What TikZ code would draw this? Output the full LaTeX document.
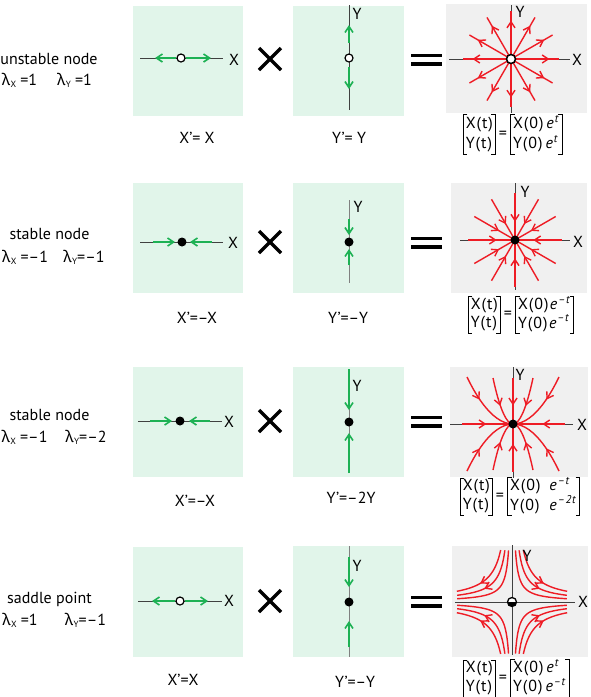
\documentclass[tikz,border=0pt]{standalone}
\usepackage{fontspec}
\setmainfont{PT Sans}
\newfontfamily\grk{Noto Sans}
\newfontfamily\eqfam[LetterSpace=6]{PT Sans}
\usetikzlibrary{arrows.meta,decorations.markings}
\definecolor{boxgreen}{HTML}{E1F5EA}
\definecolor{boxgray}{HTML}{F0F0F0}
\definecolor{lgreen}{HTML}{1DB154}
\definecolor{lred}{HTML}{EE1C25}
\definecolor{axisc}{HTML}{404040}
\newcommand{\lam}[2]{{\grk λ}\kern0.5pt\raisebox{-0.35ex}{\fontsize{9}{9}\selectfont #1}#2}
\newcommand{\mn}{\textendash}
\newcommand{\ee}{\textit{e}}
\newcommand{\sps}[1]{\textsuperscript{\textit{#1}}}
\newcommand{\twol}[2]{\begin{tabular}{@{}l@{}}#1\\#2\end{tabular}}
\newcommand{\brk}[1]{%
  \draw[brkline] ([xshift=4pt]#1.north west) -- (#1.north west) -- (#1.south west) -- ([xshift=4pt]#1.south west);
  \draw[brkline] ([xshift=-4pt]#1.north east) -- (#1.north east) -- (#1.south east) -- ([xshift=-4pt]#1.south east);}
\begin{document}
\begin{tikzpicture}[x=1pt,y=-1pt,
  >={Straight Barb[length=6pt,width=8pt]},
  every node/.style={inner sep=0pt,outer sep=0pt},
  lbl/.style={anchor=base,font=\fontsize{16}{19}\selectfont},
  vec/.style={anchor=center,inner xsep=2.5pt,inner ysep=0pt,font=\eqfam\fontsize{16}{18.5}\selectfont},
  vecbig/.style={vec,font=\eqfam\fontsize{16}{20}\selectfont},
  eqsign/.style={anchor=center,font=\fontsize{16}{18}\selectfont},
  brkline/.style={draw=black,line width=0.9pt},
  gbox/.style={fill=boxgreen},
  pbox/.style={fill=boxgray},
  axisln/.style={draw=axisc,line width=0.9pt},
  gflow/.style={draw=lgreen,line width=1.6pt,->},
  rline/.style={draw=lred,line width=1.4pt},
  fwdtip/.style={postaction={decorate,decoration={markings,mark=at position #1 with {\arrow{>}}}}},
  revtip/.style={postaction={decorate,decoration={markings,mark=at position #1 with {\arrow{<}}}}},
  opendot/.style={circle,draw=black,fill=white,line width=1.2pt,minimum size=8pt},
  fulldot/.style={circle,fill=black,minimum size=9pt},
  bigop/.style={line width=3.2pt,draw=black},
]
\fill[white] (0,0) rectangle (590,697);
\useasboundingbox (0,0) rectangle (590,697);

%%%%%%%%%%%%%%%% Row 1: unstable node
\node[lbl] (n1) at (49,64) {unstable node};
\node[lbl] (l1a) at (19.5,85) {\lam{X}{ =1}};
\node[lbl] (l1b) at (74.5,85) {\lam{Y}{ =1}};
\fill[gbox] (133,6) rectangle (243,116);
\draw[axisln] (140,58) -- (223,58);
\draw[gflow] (176,58) -- (155,58);
\draw[gflow] (186,58) -- (211,58);
\node[opendot] (c1a) at (181,58) {};
\node[lbl] (x1a) at (234,65) {X};
\draw[bigop] (259,48) -- (281,70) (259,70) -- (281,48);
\fill[gbox] (293,6) rectangle (404,116);
\draw[axisln] (349,5) -- (349,110);
\draw[gflow] (349,43) -- (349,25);
\draw[gflow] (349,67) -- (349,89);
\node[opendot] (c1b) at (349,58) {};
\node[lbl] (y1b) at (357,19) {Y};
\draw[bigop,line width=3.6pt] (411,55.5) -- (442,55.5) (411,64) -- (442,64);
\fill[pbox] (446,4) rectangle (587,113);
\draw[axisln] (449,59) -- (570,59);
\draw[axisln] (511,5) -- (511,113);
\foreach \a in {0,30,...,330} \draw[rline,fwdtip=0.8] (511,59) -- ++(\a:48);
\node[opendot,minimum size=9pt,line width=1.5pt] (c1c) at (511,59) {};
\node[lbl] (x1c) at (577,65) {X};
\node[lbl] (y1c) at (520,17) {Y};
\node[eqsign] (q1) at (503,134.5) {=};
\node[vecbig,anchor=east] (v1l) at ([xshift=-3.5pt]q1.west) {\twol{X(t)}{Y(t)}};
\node[vecbig,anchor=west] (v1r) at ([xshift=3.5pt]q1.east) {\twol{X(0)\hspace{3pt}\ee\sps{t}}{Y(0)\hspace{3pt}\ee\sps{t}}};
\brk{v1l} \brk{v1r}
\node[lbl] (d1a) at (197,143) {X’= X};
\node[lbl] (d1b) at (349,143) {Y’= Y};

%%%%%%%%%%%%%%%% Row 2: stable node
\node[lbl] (n2) at (49.5,239) {stable node};
\node[lbl] (l2a) at (25,262) {\lam{X}{ =\mn1}};
\node[lbl] (l2b) at (84,262) {\lam{Y}{=\mn1}};
\fill[gbox] (133,183) rectangle (243,293);
\draw[axisln] (140,242) -- (223,242);
\draw[gflow] (153,242) -- (175,242);
\draw[gflow] (212,242) -- (190,242);
\node[fulldot] (c2a) at (182,242) {};
\node[lbl] (x2a) at (233,248) {X};
\draw[bigop] (259,231) -- (281,253) (259,253) -- (281,231);
\fill[gbox] (293,183) rectangle (404,293);
\draw[axisln,draw=gray] (349,200) -- (349,283);
\draw[gflow] (349,219) -- (349,235);
\draw[gflow] (349,265) -- (349,249);
\node[fulldot] (c2b) at (349,242) {};
\node[lbl] (y2b) at (358,212) {Y};
\draw[bigop,line width=3.6pt] (411,238.5) -- (442,238.5) (411,247) -- (442,247);
\fill[pbox] (451,183) rectangle (587,293);
\draw[axisln] (460,240) -- (570,240);
\draw[axisln] (515,183) -- (515,290);
\foreach \a in {0,30,...,330} \draw[rline,revtip=0.56] (515,240) -- ++(\a:47);
\node[fulldot] (c2c) at (515,240) {};
\node[lbl] (x2c) at (578,247) {X};
\node[lbl] (y2c) at (525,197) {Y};
\node[eqsign] (q2) at (508,315) {=};
\node[vec,anchor=east] (v2l) at ([xshift=-3.5pt]q2.west) {\twol{X(t)}{Y(t)}};
\node[vec,anchor=west] (v2r) at ([xshift=3.5pt]q2.east) {\twol{X(0)\hspace{1.5pt}\ee\sps{\mn t}}{Y(0)\hspace{1.5pt}\ee\sps{\mn t}}};
\brk{v2l} \brk{v2r}
\node[lbl] (d2a) at (197,323) {X’=\mn X};
\node[lbl] (d2b) at (348,323) {Y’=\mn Y};

%%%%%%%%%%%%%%%% Row 3: stable node (-1,-2)
\node[lbl] (n3) at (49.5,420) {stable node};
\node[lbl] (l3a) at (24.5,442) {\lam{X}{ =\mn1}};
\node[lbl] (l3b) at (86,442) {\lam{Y}{=\mn2}};
\fill[gbox] (133,367) rectangle (243,477);
\draw[axisln] (138,421) -- (222,421);
\draw[gflow] (150,421) -- (172,421);
\draw[gflow] (210,421) -- (189,421);
\node[fulldot] (c3a) at (180,421) {};
\node[lbl] (x3a) at (229,427) {X};
\draw[bigop] (259,410) -- (281,432) (259,432) -- (281,410);
\fill[gbox] (293,367) rectangle (404,477);
\draw[axisln,draw=gray] (349,369) -- (349,473);
\draw[gflow] (349,369) -- (349,410);
\draw[gflow] (349,473) -- (349,433);
\node[fulldot] (c3b) at (349,422) {};
\node[lbl] (y3b) at (357,391) {Y};
\draw[bigop,line width=3.6pt] (411,417.5) -- (442,417.5) (411,426) -- (442,426);
\fill[pbox] (450,367) rectangle (588,477);
\draw[axisln] (450,424) -- (573,424);
\draw[axisln] (513,367) -- (513,478);
\draw[rline,revtip=0.68] (513,424) -- (462,424);
\draw[rline,revtip=0.72] (513,424) -- (565,424);
\draw[rline,revtip=0.58] (513,424) -- (513,378);
\draw[rline,revtip=0.58] (513,424) -- (513,472);
\foreach \sx in {1,-1} \foreach \sy in {1,-1} {
  \draw[rline,revtip=0.74] (513,424) parabola ({513+\sx*46},{424+\sy*47});
  \draw[rline,revtip=0.6] (513,424) parabola ({513+\sx*20},{424+\sy*46});
}
\node[fulldot] (c3c) at (513,424) {};
\node[lbl] (x3c) at (582,430) {X};
\node[lbl] (y3c) at (520,380) {Y};
\node[eqsign] (q3) at (500,496.5) {=};
\node[vec,anchor=east] (v3l) at ([xshift=-3.5pt]q3.west) {\twol{X(t)}{Y(t)}};
\node[vec,anchor=west] (v3r) at ([xshift=3.5pt]q3.east) {\begin{tabular}{@{}l@{\hspace{9pt}}l@{}}X(0)&\ee\sps{\mn t}\\Y(0)&\ee\sps{\mn 2t}\end{tabular}};
\brk{v3l} \brk{v3r}
\node[lbl] (d3a) at (195,506) {X’=\mn X};
\node[lbl] (d3b) at (351,503) {Y’=\mn 2Y};

%%%%%%%%%%%%%%%% Row 4: saddle point
\node[lbl] (n4) at (49.5,603) {saddle point};
\node[lbl] (l4a) at (20,625) {\lam{X}{ =1}};
\node[lbl] (l4b) at (85.5,625) {\lam{Y}{=\mn1}};
\fill[gbox] (133,547) rectangle (243,657);
\draw[axisln] (138,601) -- (222,601);
\draw[gflow] (175,601) -- (152,601);
\draw[gflow] (185,601) -- (208,601);
\node[opendot] (c4a) at (180,601) {};
\node[lbl] (x4a) at (229,606) {X};
\draw[bigop] (259,590) -- (281,612) (259,612) -- (281,590);
\fill[gbox] (293,546) rectangle (404,657);
\draw[axisln,draw=gray] (349,546) -- (349,657);
\draw[gflow] (349,557) -- (349,587);
\draw[gflow] (349,647) -- (349,621);
\node[fulldot] (c4b) at (349,602) {};
\node[lbl] (y4b) at (357,571) {Y};
\draw[bigop,line width=3.6pt] (411,597.5) -- (442,597.5) (411,606) -- (442,606);
\fill[pbox] (452,546) rectangle (588,657);
\draw[axisln] (455,602) -- (575,602);
\draw[axisln] (512,545) -- (512,655);
\begin{scope}[shift={(512,602)}]
\foreach \sx/\sy in {1/1,1/-1,-1/1,-1/-1} {
  \draw[rline] plot[samples=60,variable=\q,domain=-1.35:1.41] ({\sx*13.4*exp(\q)},{\sy*13.4*exp(0-\q)});
  \draw[rline,fwdtip=0.62] plot[samples=60,variable=\q,domain=-0.99:1.05] ({\sx*19.2*exp(\q)},{\sy*19.2*exp(0-\q)});
  \draw[rline,fwdtip=0.62] plot[samples=60,variable=\q,domain=-0.76:0.82] ({\sx*24.3*exp(\q)},{\sy*24.3*exp(0-\q)});
}
\end{scope}
\fill[white] (512,602) circle[radius=4.5pt];
\fill[black] (512,602) ++(-4.5pt,0) arc[start angle=180,end angle=360,radius=4.5pt] -- cycle;
\node[circle,draw=black,line width=1.3pt,minimum size=9pt] (c4c) at (512,602) {};
\node[lbl] (x4c) at (583,607) {X};
\node[lbl] (y4c) at (527,561) {Y};
\node[eqsign] (q4) at (503,678.5) {=};
\node[vec,anchor=east] (v4l) at ([xshift=-3.5pt]q4.west) {\twol{X(t)}{Y(t)}};
\node[vec,anchor=west] (v4r) at ([xshift=3.5pt]q4.east) {\twol{X(0)\hspace{3pt}\ee\sps{t}}{Y(0)\hspace{3pt}\ee\sps{\mn t}}};
\brk{v4l} \brk{v4r}
\node[lbl] (d4a) at (183,685) {X’=X};
\node[lbl] (d4b) at (355,687) {Y’=\mn Y};
\end{tikzpicture}
\end{document}
